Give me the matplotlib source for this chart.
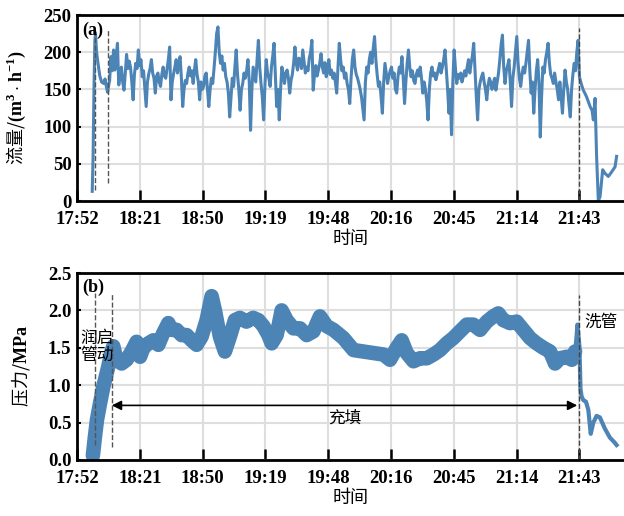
import matplotlib
matplotlib.use('Agg')
import matplotlib.pyplot as plt
import numpy as np

plt.rcParams['font.family'] = ['Liberation Serif', 'Noto Sans CJK SC']
plt.rcParams['mathtext.fontset'] = 'custom'
plt.rcParams['mathtext.rm'] = 'Liberation Serif'
plt.rcParams['mathtext.bf'] = 'Liberation Serif:bold'

# time axis in minutes after 17:52
tick_labels = ['17:52', '18:21', '18:50', '19:19', '19:48', '20:16', '20:45', '21:14', '21:43']
tick_pos = [0, 28.875, 57.75, 86.625, 115.5, 144.375, 173.25, 202.125, 231]

# (a) flow, m3/h -- start-up readings
flow_t_start = [7.0, 7.4, 7.8, 8.2, 8.5, 9.0, 9.8, 10.5, 11.3, 12.2,
                12.9, 13.6, 14.1, 14.7]
flow_v_start = [13, 60, 150, 215, 226, 200, 182, 168, 160, 158,
                164, 152, 146, 158]
# filling, one reading every 0.6 min from 15.0 min
fill_step = 0.6
fill_t0 = 15.0
flow_v_fill = [
    162, 194, 175, 203, 176, 195, 212, 156, 170, 180,
    160, 149, 172, 197, 178, 188, 180, 160, 136, 170,
    185, 178, 203, 182, 190, 167, 175, 150, 127, 160,
    171, 178, 190, 172, 165, 145, 168, 172, 160, 154,
    170, 180, 168, 165, 178, 190, 207, 136, 160, 171,
    180, 190, 172, 185, 194, 165, 127, 150, 162, 158,
    172, 180, 168, 175, 158, 176, 190, 170, 160, 136,
    160, 150, 154, 168, 172, 150, 127, 150, 165, 158,
    178, 200, 225, 234, 200, 185, 195, 176, 185, 167,
    160, 145, 113, 140, 165, 154, 180, 203, 170, 150,
    122, 150, 158, 172, 165, 175, 190, 160, 95, 150,
    180, 170, 160, 190, 216, 180, 158, 140, 109, 155,
    190, 172, 165, 154, 180, 195, 212, 170, 127, 150,
    109, 150, 180, 170, 158, 172, 176, 165, 145, 162,
    170, 185, 207, 185, 176, 192, 190, 178, 203, 188,
    172, 180, 175, 192, 200, 216, 149, 170, 182, 168,
    176, 185, 198, 180, 172, 186, 167, 178, 190, 170,
    176, 165, 172, 160, 145, 180, 212, 190, 175, 180,
    165, 172, 158, 150, 131, 165, 190, 203, 180, 170,
    165, 158, 150, 140, 125, 109, 160, 180, 172, 190,
    200, 185, 205, 221, 190, 170, 154, 160, 140, 118,
    160, 185, 172, 158, 168, 175, 180, 165, 172, 150,
    145, 168, 180, 172, 194, 165, 131, 160, 185, 203,
    180, 167, 175, 162, 158, 170, 176, 168, 180, 165,
    145, 160, 150, 135, 109, 150, 172, 180, 168, 172,
    163, 170, 178, 185, 172, 180, 190, 203, 176, 150,
    118, 150, 89, 160, 203, 178, 158, 170, 165, 172,
    160, 167, 175, 168, 180, 190, 172, 185, 195, 212,
    175, 140, 109, 150, 160, 167, 172, 160, 150, 136,
    155, 165, 160, 150, 158, 165, 149, 160, 172, 190,
    210, 223, 180, 158, 175, 182, 190, 160, 127, 165,
    180, 200, 221, 185, 165, 154, 170, 180, 172, 185,
    200, 216, 175, 145, 160, 118, 150, 175, 190, 160,
    86, 140, 180, 172, 190, 200, 212, 185, 170, 165,
    158, 172, 160, 150, 136, 160, 140, 118, 150, 176,
    160, 150, 130, 113, 150, 170, 185, 175, 200, 216]
# pipe washing
flow_t_end = [231.0, 232.0, 232.8, 234.3, 235.9, 236.8, 237.4, 238.2, 238.9, 239.7,
              240.5, 241.7, 242.8, 244.3, 245.8, 247.4, 248.1]
flow_v_end = [167, 156, 149, 140, 127, 122, 109, 138, 60, 0,
              6, 42, 37, 33, 39, 46, 60]

# (b) pressure, MPa (start-up + filling)
pres_t = [7.3, 8.2, 9.2, 10.6, 12.1, 13.3, 14.4, 15.2, 15.9, 16.7,
          17.5, 18.3, 20.5, 22.8, 25.1, 27.4, 29.0, 30.5, 32.8, 35.1,
          37.4, 39.7, 42.0, 43.5, 45.8, 48.1, 50.4, 52.7, 55.0, 57.3,
          59.6, 61.9, 63.4, 65.7, 68.0, 70.3, 72.6, 74.9, 77.9, 81.0,
          83.4, 85.7, 88.0, 89.5, 91.8, 94.1, 96.4, 99.5, 102.5, 105.6,
          108.7, 111.7, 114.8, 117.9, 122.5, 127.1, 131.7, 136.3, 140.9, 143.9,
          147.0, 149.3, 151.6, 154.7, 157.7, 160.8, 163.9, 166.9, 170.0, 173.0,
          176.1, 179.2, 182.2, 185.3, 188.4, 191.4, 193.7, 196.0, 199.1, 202.1,
          205.2, 208.3, 211.3, 214.4, 217.5, 219.8, 222.1, 225.2, 227.5, 229.0]
pres_v = [0.06, 0.30, 0.54, 0.76, 0.98, 1.12, 1.25, 1.36, 1.45, 1.52,
          1.42, 1.34, 1.29, 1.34, 1.45, 1.58, 1.38, 1.50, 1.56, 1.60,
          1.54, 1.70, 1.83, 1.74, 1.74, 1.67, 1.67, 1.60, 1.54, 1.65,
          1.87, 2.19, 2.00, 1.65, 1.45, 1.65, 1.87, 1.90, 1.85, 1.90,
          1.87, 1.79, 1.67, 1.56, 1.67, 2.00, 1.87, 1.76, 1.76, 1.67,
          1.72, 1.92, 1.79, 1.74, 1.63, 1.47, 1.45, 1.43, 1.41, 1.34,
          1.50, 1.60, 1.43, 1.32, 1.36, 1.36, 1.41, 1.47, 1.56, 1.63,
          1.72, 1.81, 1.81, 1.74, 1.85, 1.92, 1.96, 1.87, 1.83, 1.85,
          1.74, 1.63, 1.56, 1.50, 1.45, 1.29, 1.36, 1.38, 1.34, 1.45]
# pressure spike and pipe washing
wash_t = [229.0, 229.6, 230.1, 231.0, 231.5, 232.0, 232.8, 234.0, 235.1, 236.2,
          237.4, 238.9, 240.4, 242.7, 245.0, 247.3, 248.1]
wash_v = [1.45, 1.62, 1.81, 1.52, 0.95, 0.85, 0.80, 0.78, 0.67, 0.35,
          0.50, 0.59, 0.57, 0.42, 0.30, 0.23, 0.20]

color = '#4d84b6'
cjk = 'Noto Sans CJK SC'

fill_t = fill_t0 + fill_step * np.arange(len(flow_v_fill))
flow_t = np.concatenate([flow_t_start, fill_t, flow_t_end])
flow_v = np.concatenate([flow_v_start, flow_v_fill, flow_v_end])

fig = plt.figure(figsize=(6.24, 5.16), dpi=100)
ax1 = fig.add_axes([77/624, 1 - 201/516, 547/624, 186/516])
ax2 = fig.add_axes([77/624, 1 - 460/516, 547/624, 187/516])


def style(ax):
    ax.set_axisbelow(True)
    ax.grid(True, color='#dedede', lw=1.5)
    for s in ['left', 'bottom', 'top']:
        ax.spines[s].set_linewidth(2)
    ax.spines['right'].set_visible(False)
    ax.set_xlim(0, 251.5)
    ax.set_xticks(tick_pos)
    ax.set_xticklabels(tick_labels, fontweight='bold', fontsize=13.5)
    ax.tick_params(axis='x', direction='in', length=8, width=1.8, pad=7.5)
    ax.tick_params(axis='y', direction='in', length=3, width=1.5, pad=4,
                   labelsize=13.5)
    for lbl in ax.get_yticklabels():
        lbl.set_fontweight('bold')
    ax.set_xlabel('时间', family=cjk, fontsize=13, labelpad=1)


# panel (a)
ax1.plot(flow_t, flow_v, color=color, lw=2.2)
ax1.set_ylim(0, 250)
ax1.set_yticks([0, 50, 100, 150, 200, 250])
style(ax1)
ax1.vlines([8.3], 15, 230, colors='#555555', linestyles='--', lw=1)
ax1.vlines([14.4], 24, 230, colors='#555555', linestyles='--', lw=1)
ax1.vlines([231], 0, 233, colors='#444444', linestyles='--', lw=1)
ax1.set_ylabel(r'流量/$\mathbf{(m^3\cdot h^{-1})}$', family=cjk, fontsize=13)
ax1.yaxis.set_label_coords(-0.09, 0.5)
ax1.text(2.3, 230, '(a)', fontweight='bold', fontsize=13, va='center')

# panel (b)
ax2.plot(pres_t, pres_v, color=color, lw=10.5, solid_joinstyle='round',
         solid_capstyle='round')
ax2.plot(wash_t, wash_v, color=color, lw=3)
ax2.set_ylim(0, 2.5)
ax2.set_yticks([0, 0.5, 1.0, 1.5, 2.0, 2.5])
ax2.set_yticklabels(['0.0', '0.5', '1.0', '1.5', '2.0', '2.5'])
style(ax2)
ax2.vlines([8.3], 0.2, 2.23, colors='#555555', linestyles='--', lw=1)
ax2.vlines([15.9], 0.18, 2.23, colors='#555555', linestyles='--', lw=1)
ax2.vlines([231], 0, 2.2, colors='#444444', linestyles='--', lw=1)
ax2.annotate('', xy=(16, 0.73), xytext=(230, 0.73),
             arrowprops=dict(arrowstyle='<|-|>', color='black', lw=1.2,
                             mutation_scale=14, shrinkA=0, shrinkB=0))
ax2.text(123, 0.56, '充填', family=cjk, fontsize=12, ha='center', va='center')
ax2.text(1.4, 1.74, '润启\n管动', family=cjk, fontsize=12, ha='left', va='top',
         linespacing=1.0)
ax2.text(233.2, 1.84, '洗管', family=cjk, fontsize=12, ha='left', va='center')
ax2.set_ylabel(r'压力/$\mathbf{MPa}$', family=cjk, fontsize=13)
ax2.yaxis.set_label_coords(-0.083, 0.5)
ax2.text(2.3, 2.31, '(b)', fontweight='bold', fontsize=13, va='center')

fig.savefig('out.png', dpi=100)
